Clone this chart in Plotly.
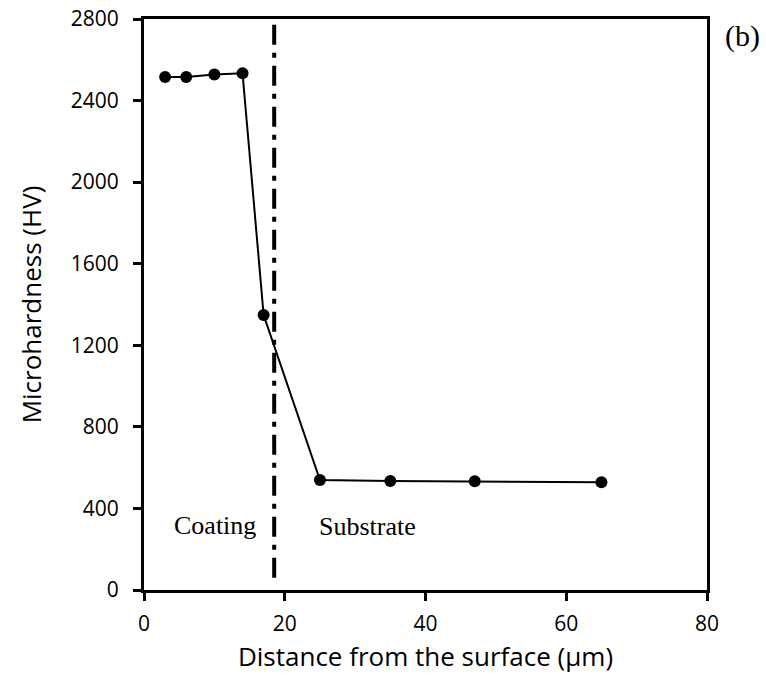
import plotly.graph_objects as go

distance = [3, 6, 10, 14, 17, 25, 35, 47, 65]
hardness = [2516, 2516, 2528, 2534, 1348, 539, 535, 533, 528]
boundary_x = [18.5, 18.5]
boundary_y = [60, 2815]
x_ticks = [0, 20, 40, 60, 80]
y_ticks = [0, 400, 800, 1200, 1600, 2000, 2400, 2800]

fig = go.Figure()
fig.add_trace(go.Scatter(x=boundary_x, y=boundary_y, mode="lines",
                         line=dict(color="black", width=4, dash="20px,8px,5px,8px"),
                         cliponaxis=False, showlegend=False))
fig.add_trace(go.Scatter(x=distance, y=hardness, mode="lines+markers",
                         line=dict(color="black", width=2),
                         marker=dict(color="black", size=12),
                         cliponaxis=False, showlegend=False))

fig.add_annotation(x=10.1, y=318, text="Coating", showarrow=False,
                   font=dict(family="Liberation Serif", size=26, color="black"))
fig.add_annotation(x=31.8, y=309, text="Substrate", showarrow=False,
                   font=dict(family="Liberation Serif", size=26, color="black"))
fig.add_annotation(xref="paper", yref="paper", x=1.063, y=0.970, text="(b)",
                   xanchor="center", yanchor="middle", showarrow=False,
                   font=dict(family="Liberation Serif", size=30, color="black"))

axis_common = dict(showgrid=False, zeroline=False, showline=True, linecolor="black",
                   linewidth=3, mirror=True, ticks="outside", ticklen=8, tickwidth=3,
                   tickcolor="black", ticklabeloverflow="allow",
                   automargin=False,
                   tickfont=dict(family="Open Sans", size=21, color="black"))
fig.update_xaxes(range=[0, 80], tickvals=x_ticks, ticklabelstandoff=5, **axis_common,
                 title=dict(text="Distance from the surface (µm)",
                            font=dict(family="Open Sans", size=26, color="black"),
                            standoff=12))
fig.update_yaxes(range=[0, 2800], tickvals=y_ticks, ticklabelstandoff=10, **axis_common,
                 title=dict(text="Microhardness (HV)",
                            font=dict(family="Open Sans", size=26, color="black"),
                            standoff=22))

fig.update_layout(width=766, height=683, margin=dict(l=144, r=59, t=19, b=93),
                  plot_bgcolor="white", paper_bgcolor="white")
fig.write_html("out.html", config={"displayModeBar": False},
               post_script="document.body.style.margin='0';")
